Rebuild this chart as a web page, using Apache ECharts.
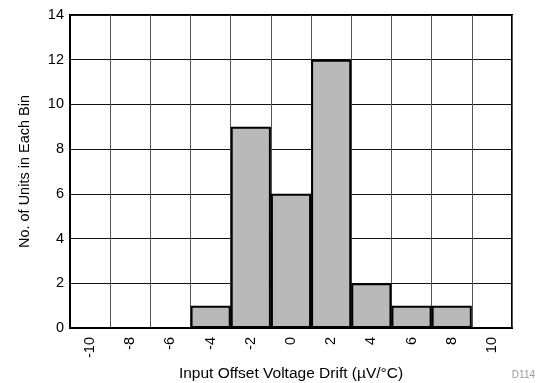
<!DOCTYPE html>
<html>
<head>
<meta charset="utf-8">
<script src="https://cdn.jsdelivr.net/npm/echarts@6/dist/echarts.min.js"></script>
<style>
	html, body { margin: 0; padding: 0; background: #fff; }
	#chart { width: 543px; height: 383px; }
</style>
</head>
<body>
<div id="chart"></div>
<script>
// bins (µV/°C) and counts
var binLabels = ['-10', '-8', '-6', '-4', '-2', '0', '2', '4', '6', '8', '10'];
var unitCounts = [0, 0, 0, 1, 9, 6, 12, 2, 1, 1, 0];
var countTicks = [0, 2, 4, 6, 8, 10, 12, 14];

var chart = echarts.init(document.getElementById('chart'));

let options = {
	animation: false,
	textStyle: {
		fontFamily: 'Liberation Sans, Arial, sans-serif'
	},
	grid: {
		left: 70,
		right: 31,
		top: 15,
		bottom: 55,
		outerBoundsMode: 'none',
		containLabel: false,
		show: true,
		borderColor: '#000',
		borderWidth: 2,
		backgroundColor: '#fff'
	},
	xAxis: {
		type: 'category',
		data: binLabels,
		boundaryGap: true,
		name: 'Input Offset Voltage Drift (\u00b5V/\u00b0C)',
		nameLocation: 'middle',
		nameGap: 33,
		nameTextStyle: {
			fontSize: 15.5,
			color: '#000'
		},
		axisLine: { lineStyle: { color: '#000', width: 2 } },
		axisTick: { show: false },
		axisLabel: {
			rotate: 90,
			fontSize: 14.5,
			color: '#000',
			margin: 9
		},
		splitLine: {
			show: true,
			lineStyle: { color: '#555', width: 1 }
		}
	},
	yAxis: {
		type: 'value',
		min: countTicks[0],
		max: countTicks[countTicks.length - 1],
		interval: 2,
		name: 'No. of Units in Each Bin',
		nameLocation: 'middle',
		nameGap: 38,
		nameTextStyle: {
			fontSize: 14.5,
			color: '#000'
		},
		axisLine: { show: true, lineStyle: { color: '#000', width: 2 } },
		axisTick: { show: false },
		axisLabel: {
			fontSize: 14.5,
			color: '#000',
			margin: 6
		},
		splitLine: {
			show: true,
			lineStyle: { color: '#111', width: 1 }
		}
	},
	graphic: [
		{
			type: 'text',
			right: 8,
			bottom: 3,
			style: {
				text: 'D114',
				fontSize: 10,
				fill: '#999',
				fontFamily: 'Liberation Sans, Arial, sans-serif'
			}
		}
	],
	series: [
		{
			name: 'Units',
			type: 'bar',
			barCategoryGap: 0,
			itemStyle: {
				color: '#b9b9b9',
				borderColor: '#000',
				borderWidth: 2
			},
			data: unitCounts.map(function (v) { return v === 0 ? '-' : v; })
		}
	]
};

chart.setOption(options);
</script>
</body>
</html>
